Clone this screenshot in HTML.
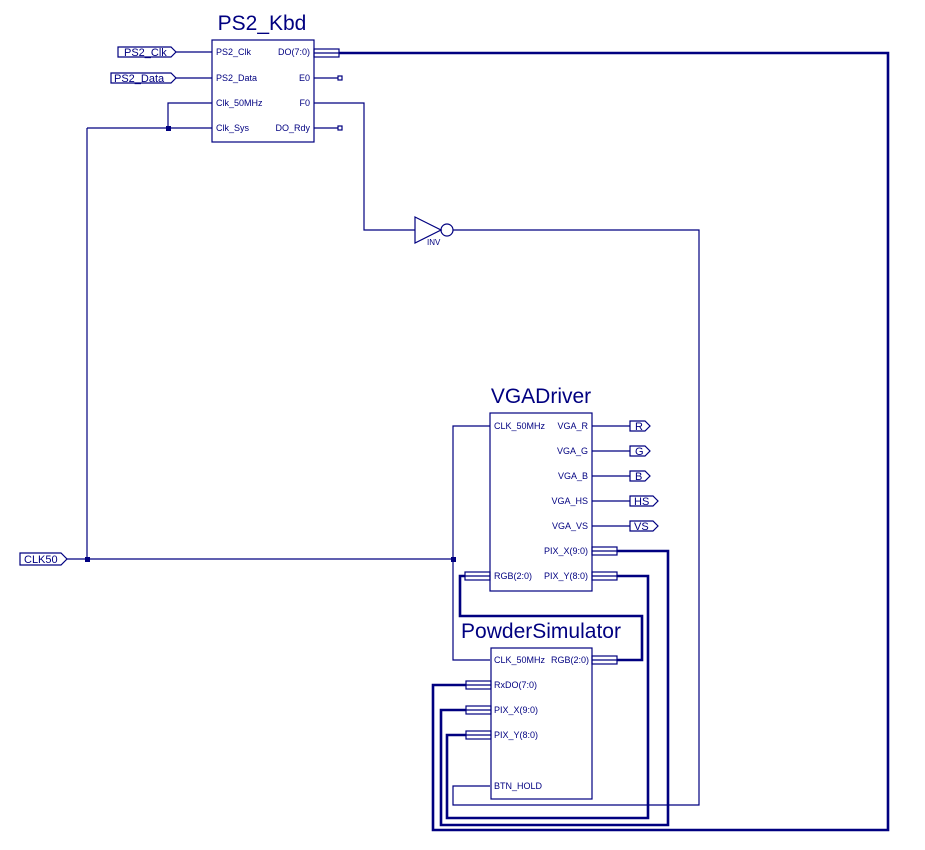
<!DOCTYPE html>
<html><head><meta charset="utf-8"><style>
html,body{margin:0;padding:0;background:#fff;}
svg{display:block;}
text{font-family:"Liberation Sans",sans-serif;fill:#000080;}
.s{font-size:9px;}
.t{font-size:21px;}
.p{font-size:11px;}
</style></head><body>
<svg width="925" height="850" viewBox="0 0 925 850" xmlns="http://www.w3.org/2000/svg">
<g fill="none" stroke="#000080" stroke-width="1.2">
<rect x="212" y="40" width="102" height="102"/>
<polygon points="118,47 171,47 176,52 171,57 118,57"/>
<polygon points="111,73 171,73 176,78 171,83 111,83"/>
<line x1="176" y1="52" x2="212" y2="52"/>
<line x1="176" y1="78" x2="212" y2="78"/>
<polyline points="212,103 168,103 168,128"/>
<line x1="87" y1="128" x2="212" y2="128"/>
<line x1="87" y1="128" x2="87" y2="559"/>
<rect x="314" y="49" width="25" height="8"/>
<line x1="314" y1="53" x2="339" y2="53"/>
<line x1="314" y1="78" x2="338" y2="78"/>
<rect x="338" y="76" width="4" height="4"/>
<line x1="314" y1="128" x2="338" y2="128"/>
<rect x="338" y="126" width="4" height="4"/>
<polyline points="314,103 364,103 364,230 415,230"/>
<polygon points="415,217 441,230 415,243"/>
<circle cx="447" cy="230" r="6"/>
<polyline points="453,230 699,230 699,805 453,805 453,786 490,786"/>
<polygon points="20,553 61,553 67,559 61,565 20,565"/>
<line x1="67" y1="559" x2="453" y2="559"/>
<polyline points="490,426 453,426 453,660 490,660"/>
<rect x="490" y="413" width="102" height="178"/>
<line x1="592" y1="426" x2="630" y2="426"/>
<line x1="592" y1="451" x2="630" y2="451"/>
<line x1="592" y1="476" x2="630" y2="476"/>
<line x1="592" y1="501" x2="630" y2="501"/>
<line x1="592" y1="526" x2="630" y2="526"/>
<polygon points="630,421 645,421 650,426 645,431 630,431"/>
<polygon points="630,446 645,446 650,451 645,456 630,456"/>
<polygon points="630,471 645,471 650,476 645,481 630,481"/>
<polygon points="630,496 653,496 658,501 653,506 630,506"/>
<polygon points="630,521 653,521 658,526 653,531 630,531"/>
<rect x="592" y="547" width="25" height="8"/>
<line x1="592" y1="551" x2="617" y2="551"/>
<rect x="592" y="572" width="25" height="8"/>
<line x1="592" y1="576" x2="617" y2="576"/>
<rect x="465" y="572" width="25" height="8"/>
<line x1="465" y1="576" x2="490" y2="576"/>
<rect x="491" y="648" width="101" height="151"/>
<rect x="592" y="656" width="25" height="8"/>
<line x1="592" y1="660" x2="617" y2="660"/>
<rect x="466" y="681" width="25" height="8"/>
<line x1="466" y1="685" x2="491" y2="685"/>
<rect x="466" y="706" width="25" height="8"/>
<line x1="466" y1="710" x2="491" y2="710"/>
<rect x="466" y="731" width="25" height="8"/>
<line x1="466" y1="735" x2="491" y2="735"/>
</g>
<g fill="none" stroke="#000080" stroke-width="2.6">
<polyline points="339,53 888,53 888,830 433,830 433,685 466,685"/>
<polyline points="617,551 668,551 668,825 441,825 441,710 466,710"/>
<polyline points="617,576 648,576 648,818 447,818 447,735 466,735"/>
<polyline points="465,576 460,576 460,616 642,616 642,660 617,660"/>
</g>
<g fill="#000080">
<rect x="166" y="126" width="5" height="5"/>
<rect x="85" y="557" width="5" height="5"/>
<rect x="451" y="557" width="5" height="5"/>
</g>
<text class="t" x="262" y="30" text-anchor="middle">PS2_Kbd</text>
<text class="p" x="124" y="56">PS2_Clk</text>
<text class="p" x="114" y="82">PS2_Data</text>
<text class="s" x="216" y="55">PS2_Clk</text>
<text class="s" x="216" y="81">PS2_Data</text>
<text class="s" x="216" y="106">Clk_50MHz</text>
<text class="s" x="216" y="131">Clk_Sys</text>
<text class="s" x="310" y="55" text-anchor="end">DO(7:0)</text>
<text class="s" x="310" y="81" text-anchor="end">E0</text>
<text class="s" x="310" y="106" text-anchor="end">F0</text>
<text class="s" x="310" y="131" text-anchor="end">DO_Rdy</text>
<text style="font-size:8px" x="427" y="245">INV</text>
<text class="p" x="24" y="563">CLK50</text>
<text class="t" x="541" y="403" text-anchor="middle">VGADriver</text>
<text class="s" x="494" y="429">CLK_50MHz</text>
<text class="s" x="588" y="429" text-anchor="end">VGA_R</text>
<text class="s" x="588" y="454" text-anchor="end">VGA_G</text>
<text class="s" x="588" y="479" text-anchor="end">VGA_B</text>
<text class="s" x="588" y="504" text-anchor="end">VGA_HS</text>
<text class="s" x="588" y="529" text-anchor="end">VGA_VS</text>
<text class="s" x="588" y="554" text-anchor="end">PIX_X(9:0)</text>
<text class="s" x="588" y="579" text-anchor="end">PIX_Y(8:0)</text>
<text class="s" x="494" y="579">RGB(2:0)</text>
<text class="p" x="635" y="430">R</text>
<text class="p" x="635" y="455">G</text>
<text class="p" x="635" y="480">B</text>
<text class="p" x="634" y="505">HS</text>
<text class="p" x="634" y="530">VS</text>
<text class="t" x="541" y="638" text-anchor="middle">PowderSimulator</text>
<text class="s" x="494" y="663">CLK_50MHz</text>
<text class="s" x="589" y="663" text-anchor="end">RGB(2:0)</text>
<text class="s" x="494" y="688">RxDO(7:0)</text>
<text class="s" x="494" y="713">PIX_X(9:0)</text>
<text class="s" x="494" y="738">PIX_Y(8:0)</text>
<text class="s" x="494" y="789">BTN_HOLD</text>
</svg>
</body></html>
